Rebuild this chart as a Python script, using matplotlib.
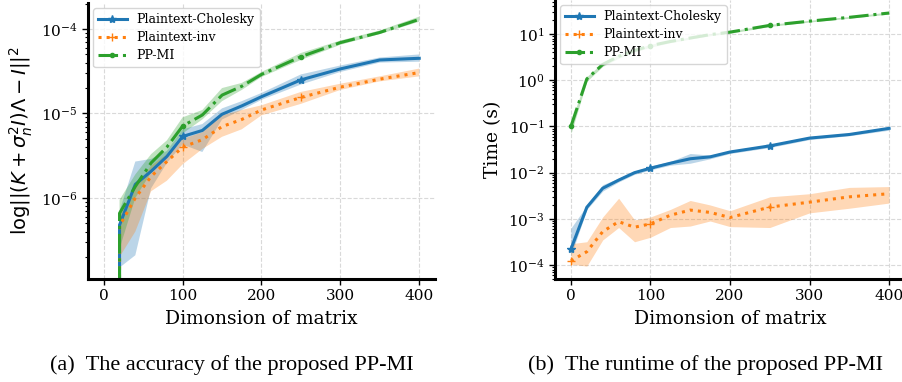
import numpy as np
import matplotlib
matplotlib.use('Agg')
import matplotlib.pyplot as plt

# x values (matrix dimension)
dims = [0, 20, 40, 60, 80, 100, 125, 150, 175, 200, 250, 300, 350, 400]

# (a) accuracy: mean and band per method
acc_chol = [0, 4.8e-7, 1.45e-6, 2.07e-6, 3.1e-6, 5.35e-6, 6.3e-6, 9.8e-6, 1.23e-5, 1.58e-5, 2.5e-5, 3.37e-5, 4.3e-5, 4.5e-5]
acc_chol_lo = [0, 1.5e-7, 2.1e-7, 1.3e-6, 2.6e-6, 4.3e-6, 3.5e-6, 8.5e-6, 1.1e-5, 1.45e-5, 2.2e-5, 3.1e-5, 4.0e-5, 4.1e-5]
acc_chol_hi = [0, 7e-7, 2.7e-6, 2.9e-6, 3.6e-6, 6.5e-6, 7.5e-6, 1.15e-5, 1.4e-5, 1.75e-5, 2.9e-5, 3.7e-5, 4.6e-5, 5.0e-5]

acc_inv = [0, 4.7e-7, 1.0e-6, 1.8e-6, 2.7e-6, 4.0e-6, 4.9e-6, 7.0e-6, 8.5e-6, 1.1e-5, 1.55e-5, 2.05e-5, 2.55e-5, 3.05e-5]
acc_inv_lo = [0, 2e-7, 4e-7, 1.2e-6, 1.6e-6, 2.5e-6, 3.8e-6, 5.3e-6, 6.5e-6, 9.5e-6, 1.3e-5, 1.9e-5, 2.4e-5, 2.75e-5]
acc_inv_hi = [0, 6e-7, 1.3e-6, 2.4e-6, 3.3e-6, 5e-6, 6.0e-6, 9.5e-6, 1.1e-5, 1.25e-5, 1.8e-5, 2.25e-5, 2.75e-5, 3.4e-5]

acc_ppmi = [0, 6.6e-7, 1.37e-6, 2.6e-6, 4.0e-6, 7.1e-6, 9.6e-6, 1.65e-5, 2.1e-5, 2.9e-5, 4.7e-5, 6.9e-5, 9.1e-5, 1.3e-4]
acc_ppmi_lo = [0, 2.5e-7, 1.0e-6, 2.0e-6, 3.3e-6, 5.8e-6, 8.5e-6, 1.4e-5, 1.9e-5, 2.7e-5, 4.3e-5, 6.5e-5, 8.7e-5, 1.22e-4]
acc_ppmi_hi = [0, 9.5e-7, 1.9e-6, 3.3e-6, 4.8e-6, 9.0e-6, 1.1e-5, 2.0e-5, 2.3e-5, 3.1e-5, 5.2e-5, 7.3e-5, 9.6e-5, 1.4e-4]

# (b) runtime in seconds
t_chol = [2.2e-4, 1.78e-3, 4.6e-3, 6.9e-3, 1.0e-2, 1.25e-2, 1.6e-2, 2.0e-2, 2.2e-2, 2.8e-2, 3.8e-2, 5.6e-2, 6.7e-2, 9.1e-2]
t_chol_lo = [1.6e-4, 1.6e-3, 4.0e-3, 6.3e-3, 9.2e-3, 1.15e-2, 1.45e-2, 1.6e-2, 2.0e-2, 2.6e-2, 3.5e-2, 5.2e-2, 6.3e-2, 8.3e-2]
t_chol_hi = [6.3e-4, 1.95e-3, 5.5e-3, 7.6e-3, 1.08e-2, 1.4e-2, 1.75e-2, 2.6e-2, 2.4e-2, 3.0e-2, 4.1e-2, 6.0e-2, 7.2e-2, 9.8e-2]

t_inv = [1.23e-4, 1.95e-4, 5.3e-4, 8.7e-4, 6.6e-4, 7.8e-4, 1.2e-3, 1.55e-3, 1.38e-3, 1.07e-3, 1.8e-3, 2.3e-3, 3.0e-3, 3.5e-3]
t_inv_lo = [1.05e-4, 9.5e-5, 3.5e-4, 6.5e-4, 3.2e-4, 4.0e-4, 6.5e-4, 7.0e-4, 9.0e-4, 6.8e-4, 6.5e-4, 1.35e-3, 1.7e-3, 2.2e-3]
t_inv_hi = [2.9e-4, 3.2e-4, 1.1e-3, 2.8e-3, 9.5e-4, 1.1e-3, 1.6e-3, 2.5e-3, 2.0e-3, 1.5e-3, 3.0e-3, 3.5e-3, 4.8e-3, 5.0e-3]

t_ppmi = [0.1, 1.07, 2.2, 3.3, 4.4, 5.6, 6.9, 8.2, 9.7, 11, 15.4, 19, 23, 28.5]
t_ppmi_lo = [0.07, 0.95, 2.0, 3.0, 4.1, 5.2, 6.5, 7.8, 9.2, 10.4, 14.6, 18.2, 22, 27]
t_ppmi_hi = [0.125, 1.2, 2.4, 3.6, 4.7, 6.0, 7.3, 8.6, 10.2, 11.6, 16.2, 19.8, 24, 30]

labels = ['Plaintext-Cholesky', 'Plaintext-inv', 'PP-MI']
colors = ['#1f77b4', '#ff7f0e', '#2ca02c']
styles = ['-', ':', '-.']
markers = ['*', '+', '.']

plt.rcParams['font.family'] = 'DejaVu Serif'
plt.rcParams['mathtext.fontset'] = 'dejavuserif'

W, H = 903, 382
fig = plt.figure(figsize=(W / 100, H / 100), dpi=100)

def px_axes(l, r, t, b):
    return fig.add_axes([l / W, (H - b) / H, (r - l) / W, (b - t) / H])

ax1 = px_axes(88, 435, 3, 279)
ax2 = px_axes(555, 905, 0, 279)

def draw(ax, series):
    for (m, lo, hi), lab, c, ls, mk in zip(series, labels, colors, styles, markers):
        ax.fill_between(dims, lo, hi, color=c, alpha=0.3, linewidth=0)
        ax.plot(dims, m, ls, color=c, marker=mk, markevery=5, markersize=6,
                linewidth=2.2, label=lab)
    ax.set_yscale('log')
    ax.set_xlim(-20, 420)
    ax.set_xticks([0, 100, 200, 300, 400])
    ax.grid(True, which='major', linestyle='--', color='#d9d9d9', linewidth=0.8)
    ax.set_axisbelow(True)
    for s in ['top', 'right']:
        ax.spines[s].set_visible(False)
    for s in ['left', 'bottom']:
        ax.spines[s].set_linewidth(2.2)
    ax.tick_params(axis='both', which='major', labelsize=11, length=4, width=1)
    ax.tick_params(axis='y', which='minor', length=2.5, width=0.8)
    ax.set_xlabel('Dimonsion of matrix', fontsize=13.5, labelpad=5)
    ax.legend(loc='upper left', prop={'family': 'DejaVu Serif', 'size': 9},
              borderaxespad=0.4, handlelength=2.3, labelspacing=0.4)

draw(ax1, [(acc_chol, acc_chol_lo, acc_chol_hi),
           (acc_inv, acc_inv_lo, acc_inv_hi),
           (acc_ppmi, acc_ppmi_lo, acc_ppmi_hi)])
ax1.set_ylim(1.1e-7, 2.03e-4)
ax1.set_yticks([1e-6, 1e-5, 1e-4])
ax1.set_ylabel(r'$\log||(K+\sigma_n^2 I)\Lambda - I||^2$', fontsize=14,
               math_fontfamily='dejavusans', labelpad=4)

draw(ax2, [(t_chol, t_chol_lo, t_chol_hi),
           (t_inv, t_inv_lo, t_inv_hi),
           (t_ppmi, t_ppmi_lo, t_ppmi_hi)])
ax2.set_ylim(5e-5, 54.5)
ax2.set_yticks([1e-4, 1e-3, 1e-2, 1e-1, 1, 10])
ax2.set_ylabel('Time (s)', fontsize=13.5, labelpad=4)

fig.text(232 / W, 1 - 365 / H, '(a)  The accuracy of the proposed PP-MI',
         family='Liberation Serif', fontsize=16, ha='center', va='center')
fig.text(706 / W, 1 - 365 / H, '(b)  The runtime of the proposed PP-MI',
         family='Liberation Serif', fontsize=16, ha='center', va='center')

fig.savefig('out.png', dpi=100)
